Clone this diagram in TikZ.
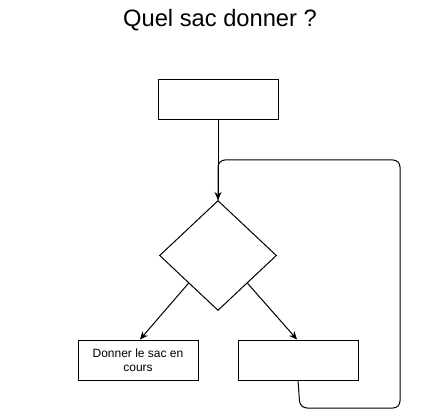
\documentclass[tikz,border=0pt]{standalone}
\usepackage{fontspec}
\setmainfont{Liberation Sans}
\usetikzlibrary{shapes.geometric,arrows.meta,calc}
\begin{document}
\begin{tikzpicture}[x=1pt,y=-1pt,
  box/.style={draw,line width=1pt,minimum width=120pt,minimum height=40pt,inner sep=0pt,align=center,font=\fontsize{12}{14}\selectfont},
  decision/.style={draw,line width=1pt,diamond,minimum width=117pt,minimum height=110pt,inner sep=0pt,aspect=1.06},
  conn/.style={line width=1pt,-{Stealth[length=8pt,width=7pt,inset=2.5pt]}},
  loopline/.style={line width=1pt,rounded corners=7pt}]
\useasboundingbox (0,0) rectangle (441,419);
\node[font=\fontsize{23.7}{28}\selectfont] (title) at (220,20) {Quel sac donner ?};
\node[box] (start) at (218,100) {};
\node[decision] (dec) at (218,255.5) {};
\node[box] (give) at (138,360) {Donner le sac en\\cours};
\node[box] (other) at (298,360) {};
\coordinate (dl) at ($(dec.west)!0.5!(dec.south)$);
\coordinate (dr) at ($(dec.east)!0.5!(dec.south)$);
\draw[conn] (start.south) -- (dec.north);
\draw[conn] (dl) -- ([xshift=2pt]give.north);
\draw[conn] (dr) -- ([xshift=-1pt]other.north);
\coordinate (b1) at (300,408);
\coordinate (b2) at (400,408);
\coordinate (b3) at (400,160);
\coordinate (b4) at (218,160);
\draw[loopline] (other.south) -- (b1) -- (b2) -- (b3) -- (b4) -- (dec.north);
\end{tikzpicture}
\end{document}
